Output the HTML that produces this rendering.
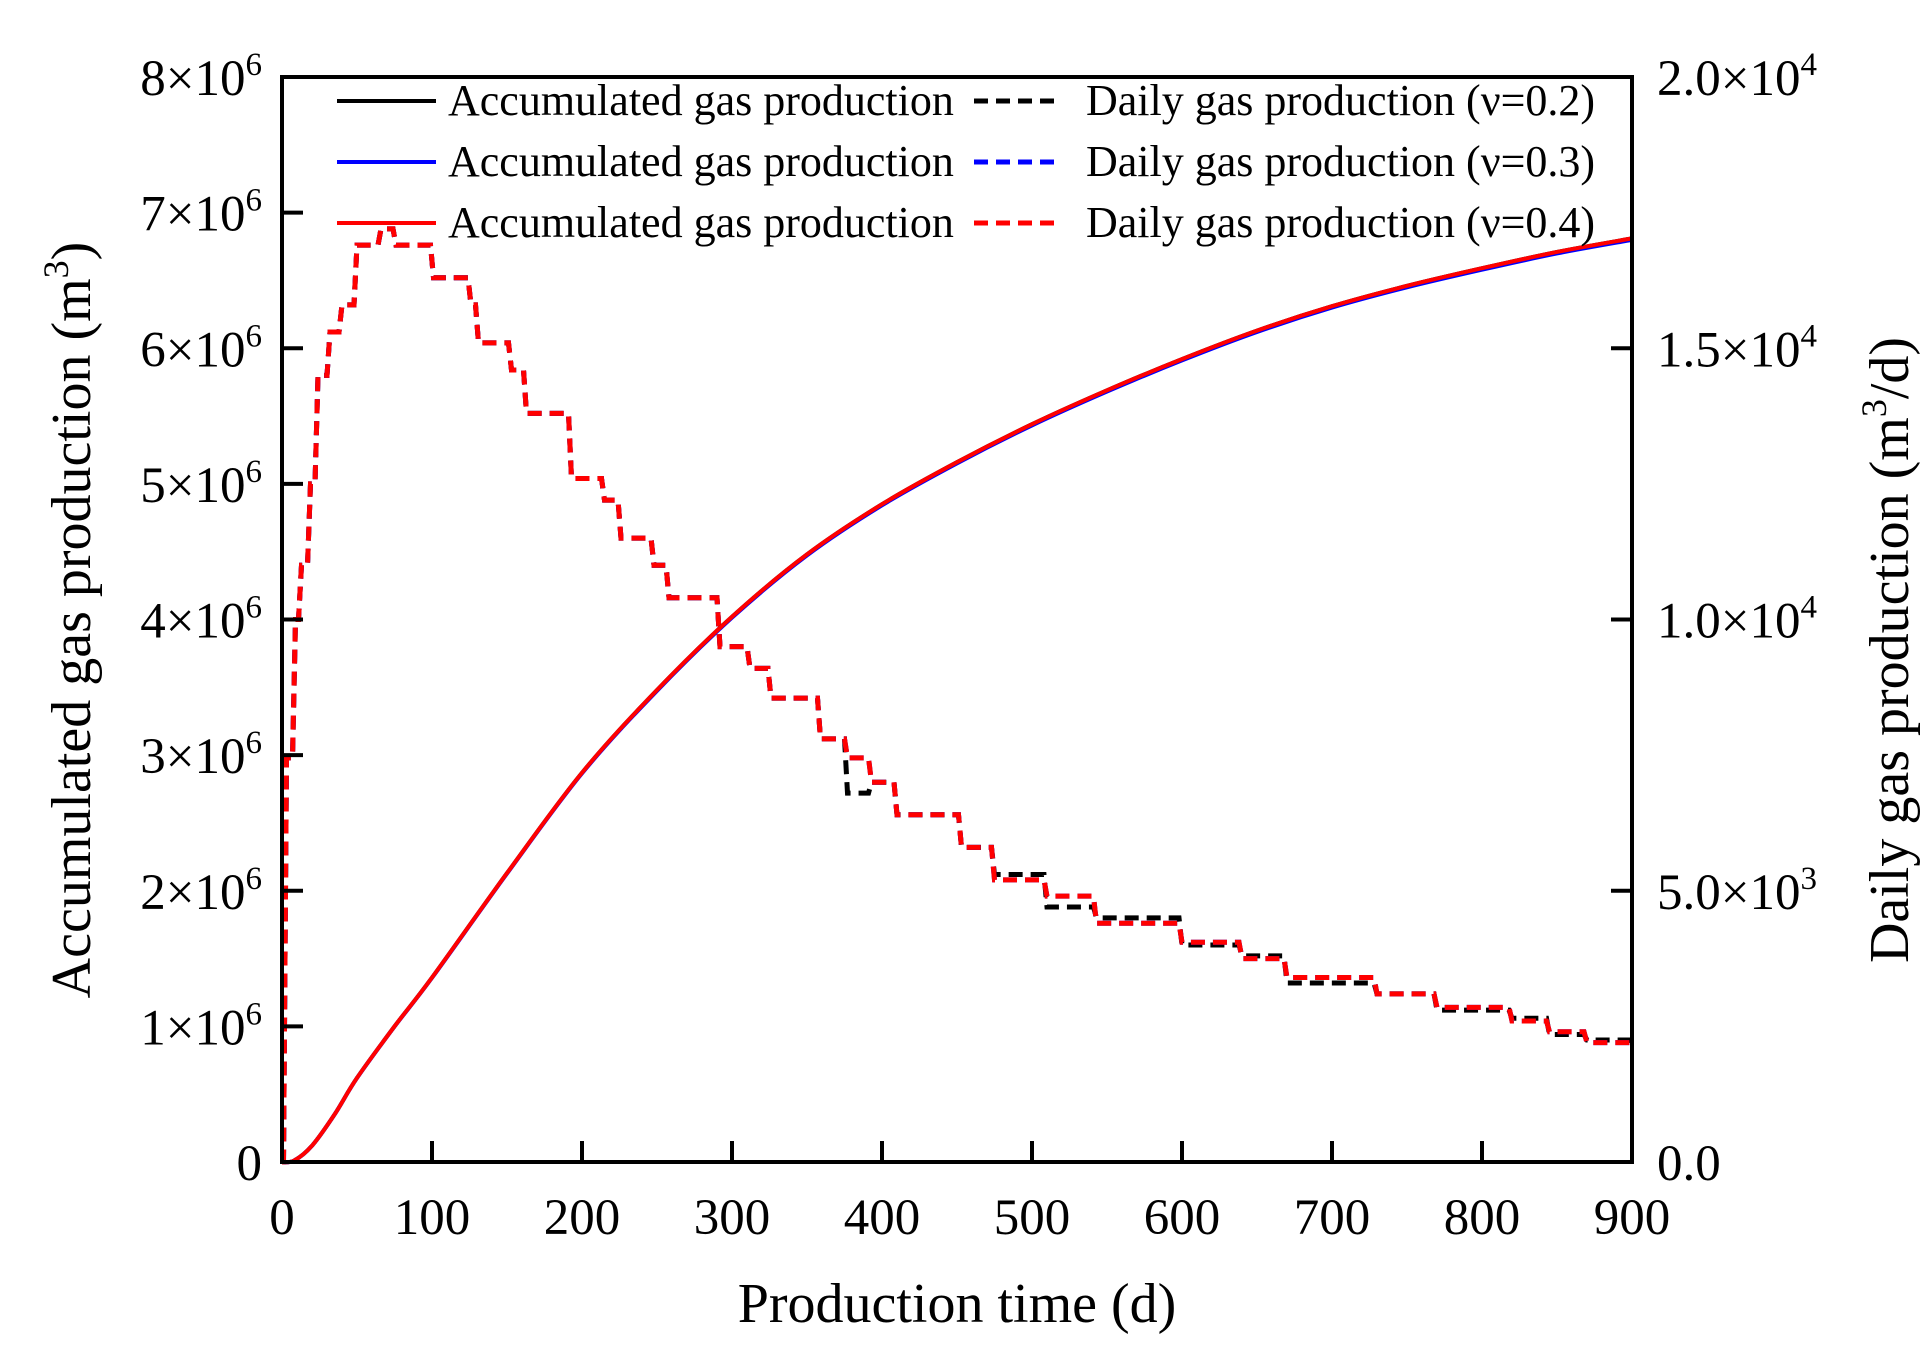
<!DOCTYPE html>
<html><head><meta charset="utf-8"><style>
html,body{margin:0;padding:0;background:#fff;}
svg{display:block;font-family:"Liberation Serif",serif;}
</style></head><body>
<svg id="chart" width="1931" height="1353" viewBox="0 0 1931 1353" xmlns="http://www.w3.org/2000/svg">
<g id="marks"></g>
<rect x="282" y="77" width="1350" height="1085" fill="none" stroke="#000" stroke-width="4"/>
<g id="axes"></g>
<text x="957" y="1322" font-size="56" text-anchor="middle">Production time (d)</text>
<text transform="translate(90,620) rotate(-90)" font-size="56" text-anchor="middle">Accumulated gas production (m<tspan dy="-22" font-size="36">3</tspan><tspan dy="22">)</tspan></text>
<text transform="translate(1908,650) rotate(-90)" font-size="56" text-anchor="middle">Daily gas production (m<tspan dy="-22" font-size="36">3</tspan><tspan dy="22">/d)</tspan></text>
<g id="legend"></g>
</svg>
<script>
const xTicks=[0,100,200,300,400,500,600,700,800,900];
const leftTicks=[0,1,2,3,4,5,6,7,8];
const rightTicks=[0,0.5,1.0,1.5,2.0];
const rightTickLabels=['0.0','5.0×10<tspan dy="-20" font-size="33">3</tspan>','1.0×10<tspan dy="-20" font-size="33">4</tspan>','1.5×10<tspan dy="-20" font-size="33">4</tspan>','2.0×10<tspan dy="-20" font-size="33">4</tspan>'];
const cumDays=[0,8,20,35,50,75,100,150,200,250,300,350,400,450,500,550,600,650,700,750,800,850,900];
const cumValues=[0,0.01,0.12,0.35,0.62,1.0,1.36,2.13,2.87,3.48,4.02,4.48,4.85,5.16,5.44,5.69,5.92,6.13,6.31,6.46,6.59,6.71,6.81];
const dailyDays=[0,3,9,13,19,24,32,40,50,66,76,101,126,131,153,163,193,215,226,248,258,292,312,326,359,377,393,410,453,475,510,543,600,640,670,730,770,820,845,870,900];
const dailyValues03=[0,0.745,1.0,1.1,1.25,1.45,1.53,1.58,1.69,1.72,1.69,1.63,1.58,1.51,1.46,1.38,1.26,1.22,1.15,1.10,1.04,0.95,0.91,0.855,0.78,0.745,0.70,0.64,0.58,0.52,0.49,0.44,0.405,0.375,0.34,0.31,0.285,0.26,0.24,0.22,0.22];
const dailyValues04=[0,0.745,1.0,1.1,1.25,1.45,1.53,1.58,1.69,1.72,1.69,1.63,1.58,1.51,1.46,1.38,1.26,1.22,1.15,1.10,1.04,0.95,0.91,0.855,0.78,0.745,0.70,0.64,0.58,0.52,0.49,0.44,0.405,0.375,0.34,0.31,0.285,0.26,0.24,0.22,0.22];
const dailyValues02=[0,0.745,1.0,1.1,1.25,1.45,1.53,1.58,1.69,1.72,1.69,1.63,1.58,1.51,1.46,1.38,1.26,1.22,1.15,1.10,1.04,0.95,0.91,0.855,0.78,0.68,0.70,0.64,0.58,0.53,0.47,0.45,0.40,0.38,0.33,0.31,0.28,0.265,0.235,0.225,0.22];
const NS='http://www.w3.org/2000/svg';
const X0=282,X1=1632,Y0=1162,Y1=77;
function xs(d){return X0+(d/900)*(X1-X0);}
function yl(v){return Y0-(v/8)*(Y0-Y1);}
function yr(v){return Y0-(v/2)*(Y0-Y1);}
function mk(tag,attrs,parent){const e=document.createElementNS(NS,tag);for(const k in attrs)e.setAttribute(k,attrs[k]);parent.appendChild(e);return e;}
const marks=document.getElementById('marks'),axes=document.getElementById('axes'),legend=document.getElementById('legend');
function stepPath(days,vals){let d='M'+xs(days[0])+','+yr(vals[0]);for(let i=1;i<days.length;i++){const x=xs(days[i]);d+=' L'+(x-3)+','+yr(vals[i-1])+' L'+x+','+yr(vals[i]);}return d;}
function smoothPath(days,vals){const p=days.map((d,i)=>[xs(d),yl(vals[i])]);let s='M'+p[0][0]+','+p[0][1];
for(let i=0;i<p.length-1;i++){const a=p[i>0?i-1:i],b=p[i],c=p[i+1],e=p[i+2<p.length?i+2:i+1];
s+=' C'+(b[0]+(c[0]-a[0])/6)+','+(b[1]+(c[1]-a[1])/6)+' '+(c[0]-(e[0]-b[0])/6)+','+(c[1]-(e[1]-b[1])/6)+' '+c[0]+','+c[1];}return s;}
const dashSeries=[[dailyValues02,'#000','daily-nu-0.2'],[dailyValues03,'#0000ff','daily-nu-0.3'],[dailyValues04,'#ff0000','daily-nu-0.4']];
dashSeries.forEach(s=>{const p=mk('path',{d:stepPath(dailyDays,s[0]),fill:'none',stroke:s[1],'stroke-width':5,'stroke-dasharray':'14 8'},marks);

});
[['#000','cumulative-nu-0.2',0],['#0000ff','cumulative-nu-0.3',0.01],['#ff0000','cumulative-nu-0.4',0]].forEach(s=>{const p=mk('path',{d:smoothPath(cumDays,cumValues.map(v=>v-s[2]*v/6)),fill:'none',stroke:s[0],'stroke-width':4},marks);

});
xTicks.forEach(t=>{const x=xs(t);if(t>0&&t<900){const l=mk('line',{x1:x,x2:x,y1:Y0,y2:Y0-21,stroke:'#000','stroke-width':4},axes);

}
const tx=mk('text',{x:x,y:1234,'font-size':51,'text-anchor':'middle'},axes);tx.textContent=t;

});
leftTicks.forEach(t=>{const y=yl(t);if(t>0&&t<8){const l=mk('line',{x1:X0,x2:X0+21,y1:y,y2:y,stroke:'#000','stroke-width':4},axes);

}
const tx=mk('text',{x:262,y:y+18,'font-size':51,'text-anchor':'end'},axes);


if(t===0){tx.textContent='0';}else{tx.innerHTML=t+'×10<tspan dy="-20" font-size="33">6</tspan>';}});
rightTicks.forEach((t,i)=>{const y=yr(t);if(t>0&&t<2){const l=mk('line',{x1:X1,x2:X1-21,y1:y,y2:y,stroke:'#000','stroke-width':4},axes);

}
const tx=mk('text',{x:1657,y:y+18,'font-size':51,'text-anchor':'start'},axes);


tx.innerHTML=rightTickLabels[i];});
const legColors=['#000','#0000ff','#ff0000'],legNu=['0.2','0.3','0.4'],legY=[101,162,223];
legColors.forEach((c,i)=>{const y=legY[i];
const a=mk('line',{x1:337,x2:436,y1:y,y2:y,stroke:c,'stroke-width':4},legend);


const t1=mk('text',{x:448,y:y+14,'font-size':44},legend);t1.textContent='Accumulated gas production';


const b=mk('line',{x1:974,x2:1062,y1:y,y2:y,stroke:c,'stroke-width':5,'stroke-dasharray':'14 8'},legend);


const t2=mk('text',{x:1086,y:y+14,'font-size':44},legend);t2.textContent='Daily gas production (ν='+legNu[i]+')';

});
</script>
</body></html>
